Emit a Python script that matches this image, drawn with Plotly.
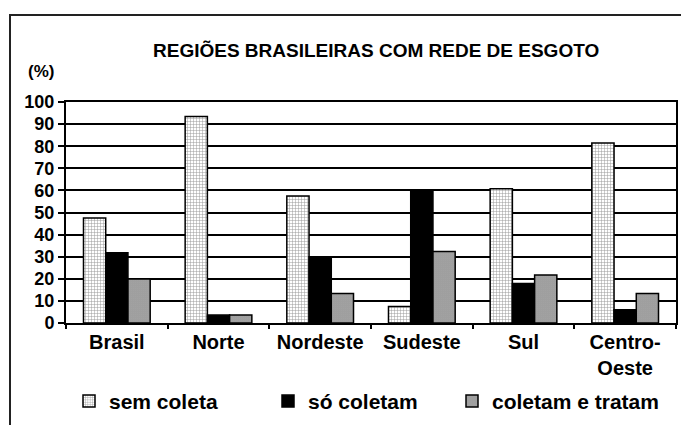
import plotly.graph_objects as go

categories = ["Brasil", "Norte", "Nordeste", "Sudeste", "Sul", "Centro-<br>Oeste"]
sem_coleta = [47.5, 93.4, 57.5, 7.5, 60.7, 81.5]
so_coletam = [31.8, 3.6, 30, 59.8, 17.9, 6]
coletam_tratam = [19.9, 3.6, 13.4, 32.4, 21.7, 13.3]
y_ticks = list(range(0, 101, 10))

FONT = "Liberation Sans"

# plot area in pixels: x 66..676, y 102..322.7
L, T, PW, PH = 66, 102, 610, 220.7
def px(x):
    return (x - L) / PW
def py(y):
    return (T + PH - y) / PH

fig = go.Figure()
fig.add_trace(go.Bar(
    x=categories, y=sem_coleta, name="sem coleta", legend="legend",
    marker=dict(color="white", line=dict(color="black", width=1.5),
                pattern=dict(shape="+", fgcolor="#333", bgcolor="white", size=3, solidity=0.3)),
))
fig.add_trace(go.Bar(
    x=categories, y=so_coletam, name="só coletam", legend="legend2",
    marker=dict(color="black", line=dict(color="black", width=1.5)),
))
fig.add_trace(go.Bar(
    x=categories, y=coletam_tratam, name="coletam e tratam", legend="legend3",
    marker=dict(color="white", line=dict(color="black", width=1.5),
                pattern=dict(shape=".", fgcolor="black", bgcolor="white", size=2, solidity=0.75)),
))

legend_font = dict(family=FONT, size=21, color="black", weight="bold")
def leg(text_x):
    return dict(orientation="h", x=px(text_x - 41), y=py(401), xanchor="left", yanchor="middle",
                font=legend_font, bgcolor="rgba(0,0,0,0)")

fig.update_layout(
    width=681, height=425,
    margin=dict(l=L, r=681 - L - PW, t=T, b=425 - T - PH, autoexpand=False),
    paper_bgcolor="white", plot_bgcolor="white",
    barmode="group", bargap=0.344, bargroupgap=0,
    font=dict(family=FONT, color="black", size=14),
    showlegend=True,
    legend=leg(110), legend2=leg(309), legend3=leg(493),
    xaxis=dict(showline=True, linecolor="black", linewidth=2, mirror=True, automargin=False,
               ticks="outside", tickson="boundaries", ticklen=4, tickcolor="black", tickwidth=1.5,
               tickfont=dict(family=FONT, size=20, weight="bold"), showgrid=False),
    yaxis=dict(range=[0, 100], tickvals=y_ticks, showline=True, linecolor="black", linewidth=2,
               mirror=True, showgrid=True, gridcolor="black", gridwidth=1.5, automargin=False,
               ticks="outside", ticklen=6, tickcolor="black", tickwidth=1.5,
               tickfont=dict(family=FONT, size=18, weight="bold"), zeroline=False),
    annotations=[
        dict(text="REGIÕES BRASILEIRAS COM REDE DE ESGOTO", xref="paper", yref="paper",
             x=px(376), y=py(51), xanchor="center", yanchor="middle", showarrow=False,
             font=dict(family=FONT, size=19, weight="bold")),
        dict(text="(%)", xref="paper", yref="paper",
             x=px(41), y=py(72), xanchor="center", yanchor="middle", showarrow=False,
             font=dict(family=FONT, size=17, weight="bold")),
    ],
    shapes=[
        dict(type="rect", xref="paper", yref="paper",
             x0=px(10), x1=1.2, y0=-1, y1=py(15),
             line=dict(color="#222", width=2), fillcolor="rgba(0,0,0,0)", layer="below"),
    ],
)

fig.write_html("out.html", config={"displayModeBar": False},
               post_script="document.body.style.margin='0px';")
